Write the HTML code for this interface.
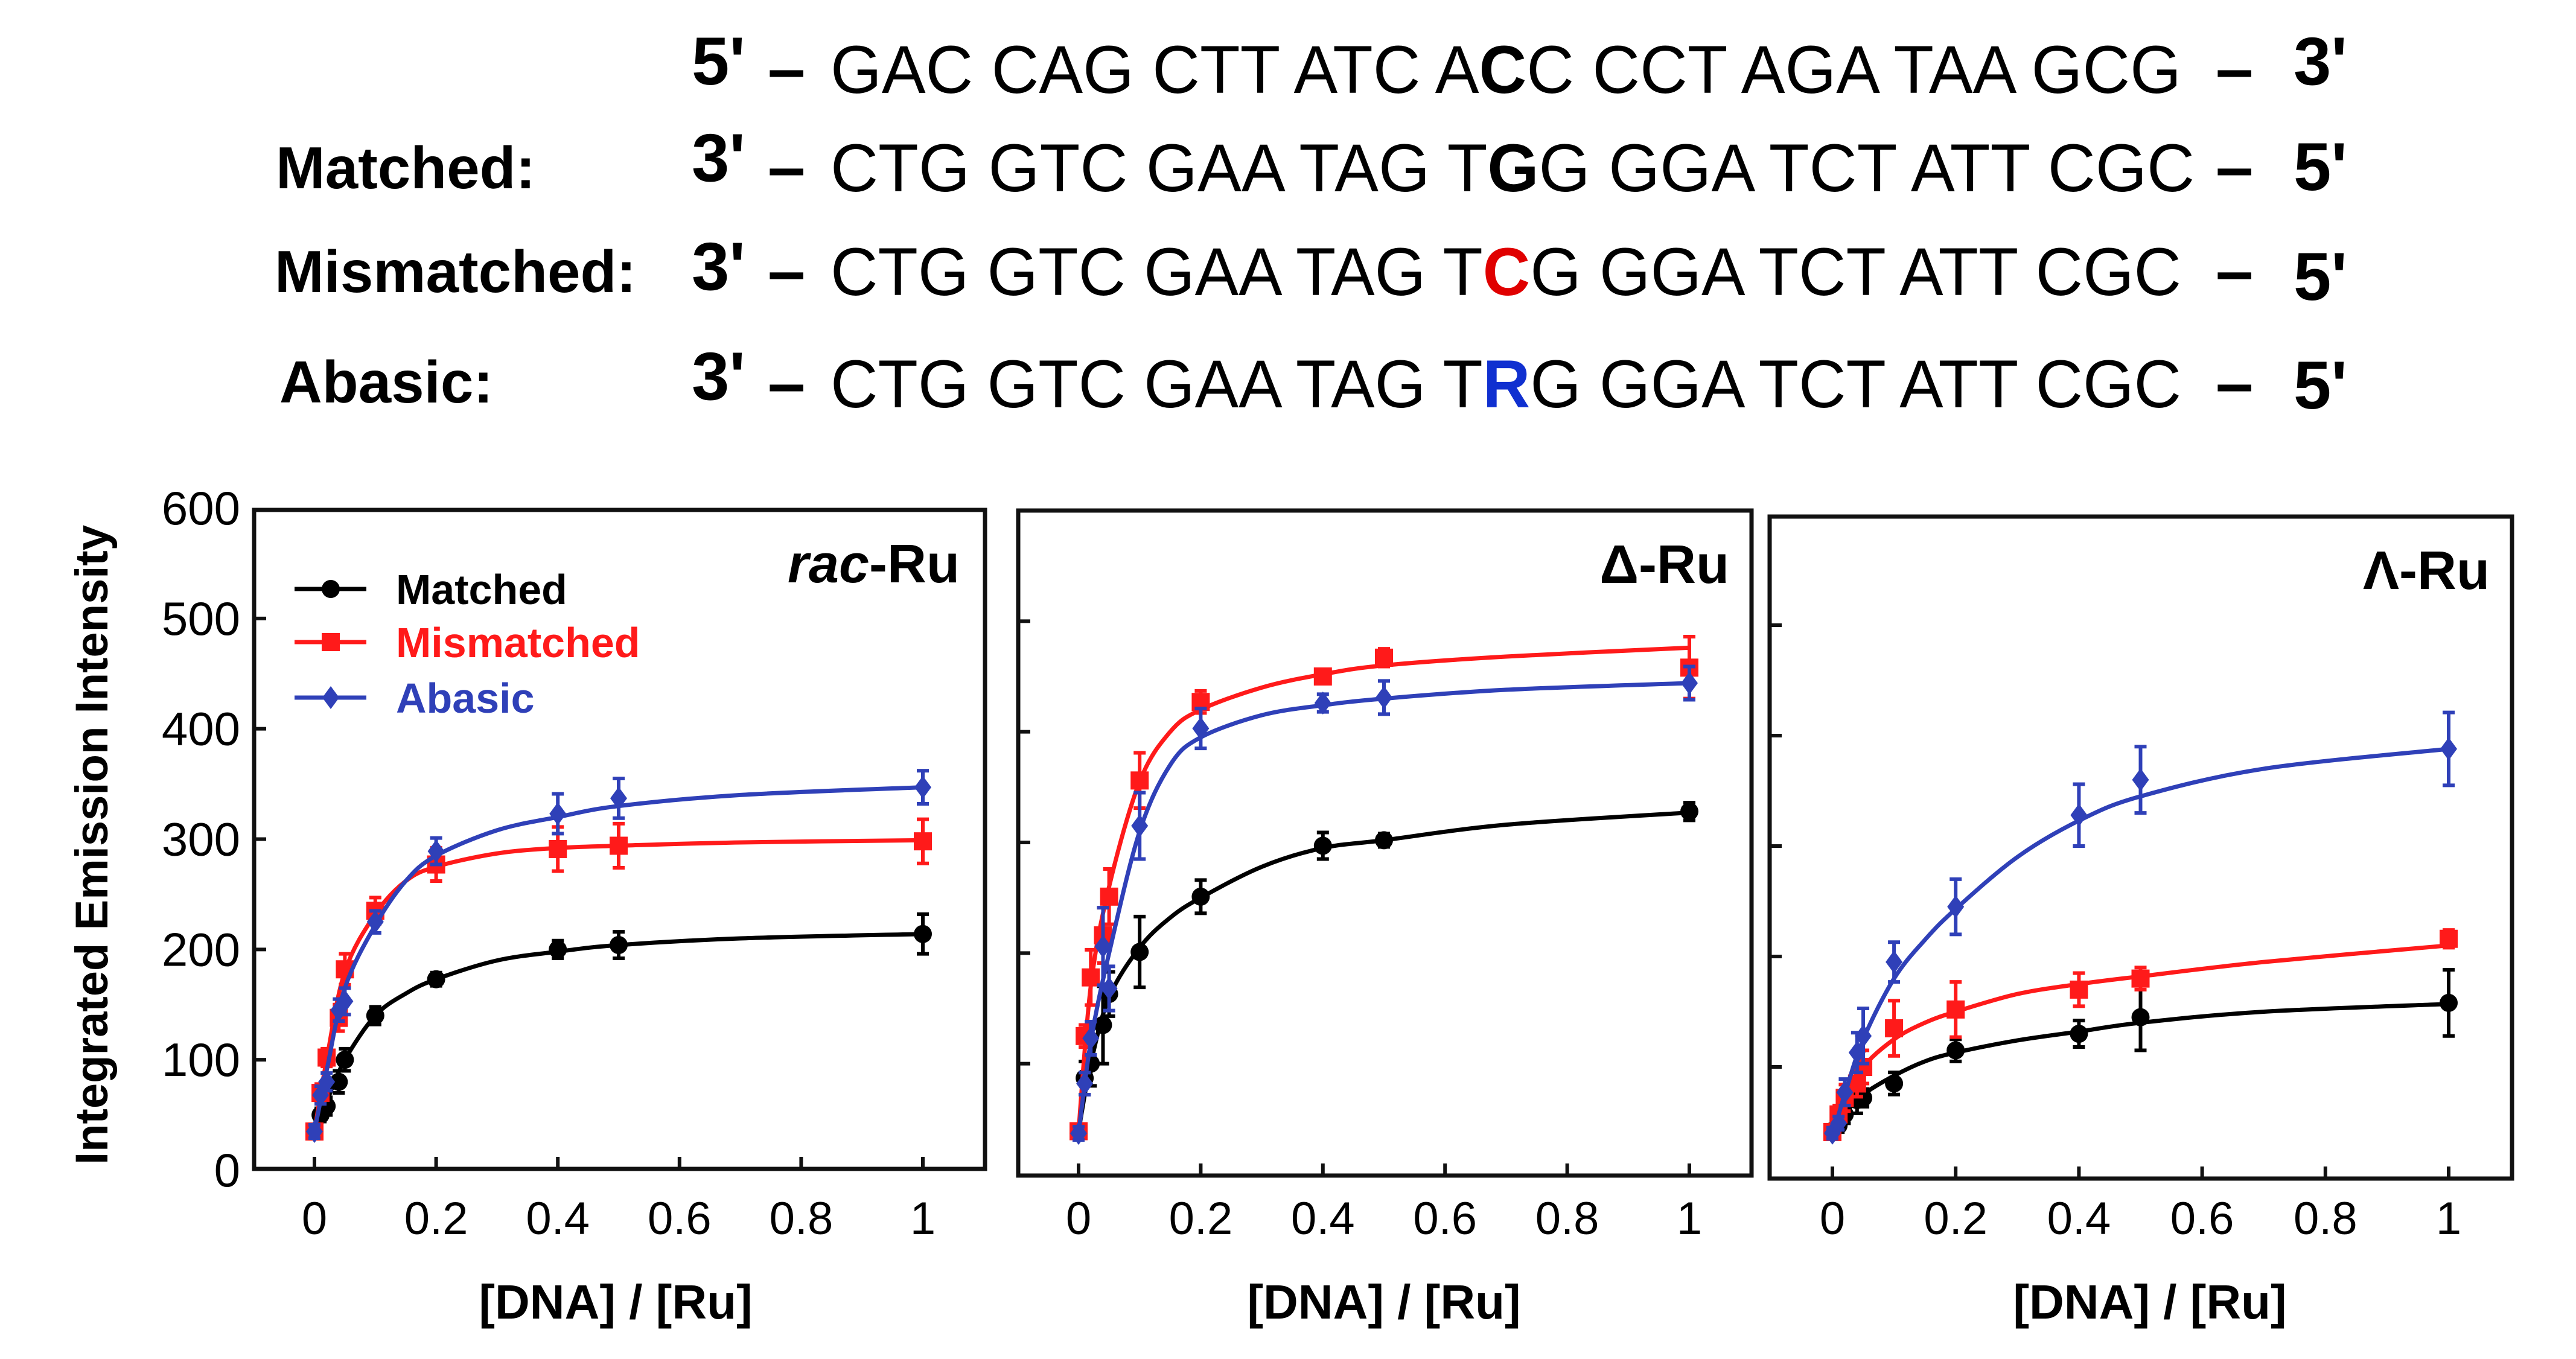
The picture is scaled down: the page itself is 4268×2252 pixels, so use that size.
<!DOCTYPE html>
<html><head><meta charset="utf-8"><style>
html,body{margin:0;padding:0;background:#fff;}
svg{display:block;font-family:"Liberation Sans",sans-serif;}
</style></head><body>
<svg id="fig" width="4268" height="2252" viewBox="0 0 4268 2252" xmlns="http://www.w3.org/2000/svg">
<g id="seq" font-size="112" fill="#000">
  <text x="1146" y="140" font-weight="bold">5'</text>
  <text x="1272" y="152" font-weight="bold">–</text>
  <text x="1376" y="154" textLength="2238" lengthAdjust="spacingAndGlyphs">GAC CAG CTT ATC A<tspan font-weight="bold">C</tspan>C CCT AGA TAA GCG</text>
  <text x="3671" y="152" font-weight="bold">–</text>
  <text x="3800" y="140" font-weight="bold">3'</text>

  <text x="457" y="312" font-weight="bold" font-size="98">Matched:</text>
  <text x="1146" y="300" font-weight="bold">3'</text>
  <text x="1272" y="315" font-weight="bold">–</text>
  <text x="1376" y="317" textLength="2260" lengthAdjust="spacingAndGlyphs">CTG GTC GAA TAG T<tspan font-weight="bold">G</tspan>G GGA TCT ATT CGC</text>
  <text x="3671" y="315" font-weight="bold">–</text>
  <text x="3800" y="315" font-weight="bold">5'</text>

  <text x="455" y="484" font-weight="bold" font-size="98">Mismatched:</text>
  <text x="1146" y="480" font-weight="bold">3'</text>
  <text x="1272" y="487" font-weight="bold">–</text>
  <text x="1376" y="489" textLength="2238" lengthAdjust="spacingAndGlyphs">CTG GTC GAA TAG T<tspan fill="#e00000" font-weight="bold">C</tspan>G GGA TCT ATT CGC</text>
  <text x="3671" y="487" font-weight="bold">–</text>
  <text x="3800" y="497" font-weight="bold">5'</text>

  <text x="463" y="667" font-weight="bold" font-size="98">Abasic:</text>
  <text x="1146" y="662" font-weight="bold">3'</text>
  <text x="1272" y="673" font-weight="bold">–</text>
  <text x="1376" y="675" textLength="2238" lengthAdjust="spacingAndGlyphs">CTG GTC GAA TAG T<tspan fill="#1030d0" font-weight="bold">R</tspan>G GGA TCT ATT CGC</text>
  <text x="3671" y="673" font-weight="bold">–</text>
  <text x="3800" y="677" font-weight="bold">5'</text>
</g>
<g id="charts"></g>
</svg>
<script>
const xVals = [0,0.01,0.02,0.04,0.05,0.1,0.2,0.4,0.5,1];
const fitX = [0,0.02,0.05,0.1,0.15,0.2,0.3,0.4,0.5,0.7,1];
const xTicks = [0,0.2,0.4,0.6,0.8,1];
const xTickLabels = ["0","0.2","0.4","0.6","0.8","1"];
const yTicks = [0,100,200,300,400,500,600];
const yTickLabels = ["0","100","200","300","400","500","600"];
const seriesNames = ["Matched","Mismatched","Abasic"];
const panelTitles = ["rac-Ru","Δ-Ru","Λ-Ru"];

const racMatched = [35,50,58,80,100,140,173,200,204,214];
const racMatchedErr = [5,6,8,10,10,8,6,8,12,18];
const racMismatched = [35,70,102,138,182,235,277,291,294,298];
const racMismatchedErr = [5,8,8,12,14,12,15,20,20,20];
const racAbasic = [35,68,80,145,153,225,289,323,337,347];
const racAbasicErr = [6,8,8,10,12,10,12,18,18,15];
const racFitM = [35,62,100,140,160,173,190,198,204,210,214];
const racFitMm = [35,100,180,232,262,275,287,292,294,297,299];
const racFitA = [35,90,165,222,262,285,308,320,330,340,347];

const deltaMatched = [39,87,100,135,163,201,251,297,302,328];
const deltaMatchedErr = [6,15,20,35,20,32,15,12,6,8];
const deltaMismatched = [39,125,178,216,251,356,427,450,467,458];
const deltaMismatchedErr = [6,10,25,25,25,25,10,5,8,28];
const deltaAbasic = [37,82,123,206,168,315,403,426,431,444];
const deltaAbasicErr = [6,10,15,35,20,30,18,8,15,15];
const deltaFitM = [39,100,160,205,232,250,278,295,302,316,327];
const deltaFitMm = [39,170,260,355,400,420,440,452,460,468,476];
const deltaFitA = [37,120,200,310,370,395,415,424,430,438,444];

const lambdaMatched = [42,47,57,70,72,85,115,130,145,158];
const lambdaMatchedErr = [5,6,8,12,8,10,10,12,30,30];
const lambdaMismatched = [41,57,72,85,100,135,152,170,180,216];
const lambdaMismatchedErr = [5,8,12,12,15,25,25,15,10,8];
const lambdaAbasic = [40,49,77,113,128,195,245,328,360,388];
const lambdaAbasicErr = [5,6,12,18,25,18,25,28,30,33];
const lambdaFitM = [38,57,75,92,105,113,124,132,140,150,157];
const lambdaFitMm = [38,70,100,125,140,150,166,175,182,195,210];
const lambdaFitA = [38,75,125,180,215,243,290,323,345,370,388];

const NS="http://www.w3.org/2000/svg";
const colors=["#000000","#ff1a1a","#2f40b8"];
const panels=[
 {fl:421,fr:1632,ft:845,fb:1937,x0:521,x1:1529,y0:1939,y6:842,tx:1590,cx:1020,yl:true,
  d:[racMatched,racMismatched,racAbasic],e:[racMatchedErr,racMismatchedErr,racAbasicErr],f:[racFitM,racFitMm,racFitA],name:'rac-panel'},
 {fl:1687,fr:2902,ft:846,fb:1948,x0:1787,x1:2799,y0:1946,y6:846,tx:2865,cx:2293,yl:false,
  d:[deltaMatched,deltaMismatched,deltaAbasic],e:[deltaMatchedErr,deltaMismatchedErr,deltaAbasicErr],f:[deltaFitM,deltaFitMm,deltaFitA],name:'delta-panel'},
 {fl:2932,fr:4162,ft:856,fb:1953,x0:3036,x1:4057,y0:1951,y6:853,tx:4125,cx:3562,yl:false,
  d:[lambdaMatched,lambdaMismatched,lambdaAbasic],e:[lambdaMatchedErr,lambdaMismatchedErr,lambdaAbasicErr],f:[lambdaFitM,lambdaFitMm,lambdaFitA],name:'lambda-panel'}
];
function mk(tag,attrs,parent){const el=document.createElementNS(NS,tag);for(const k in attrs)el.setAttribute(k,attrs[k]);parent.appendChild(el);return el;}
function marker(g,type,x,y,c){
 let m;
 if(type===0)m=mk('circle',{cx:x,cy:y,r:15,fill:c},g);
 else if(type===1)m=mk('rect',{x:x-15,y:y-15,width:30,height:30,fill:c},g);
 else m=mk('polygon',{points:`${x},${y-19} ${x+14},${y} ${x},${y+19} ${x-14},${y}`,fill:c},g);
 return m;
}
function crPath(pts){
 let d=`M${pts[0][0]},${pts[0][1]}`;
 for(let i=0;i<pts.length-1;i++){
  const p0=pts[Math.max(0,i-1)],p1=pts[i],p2=pts[i+1],p3=pts[Math.min(pts.length-1,i+2)];
  const c1=[p1[0]+(p2[0]-p0[0])/6,p1[1]+(p2[1]-p0[1])/6];
  const c2=[p2[0]-(p3[0]-p1[0])/6,p2[1]-(p3[1]-p1[1])/6];
  d+=` C${c1[0]},${c1[1]} ${c2[0]},${c2[1]} ${p2[0]},${p2[1]}`;
 }
 return d;
}
const root=document.getElementById('charts');
panels.forEach((p,pi)=>{
 const g=mk('g',{},root);
 
 
 const X=v=>p.x0+(p.x1-p.x0)*v;
 const Y=v=>p.y0+(p.y6-p.y0)*v/600;
 const fr=mk('rect',{x:p.fl,y:p.ft,width:p.fr-p.fl,height:p.fb-p.ft,fill:'none',stroke:'#111','stroke-width':7},g);
 
 
 xTicks.forEach((t,i)=>{
  const tk=mk('line',{x1:X(t),x2:X(t),y1:p.fb,y2:p.fb-20,stroke:'#111','stroke-width':6},g);
  
  
  const tl=mk('text',{x:X(t),y:2045,'font-size':76,'text-anchor':'middle',fill:'#000'},g);
  tl.textContent=xTickLabels[i];
  
  
 });
 yTicks.forEach((t,i)=>{
  if(t===0||t===600)return;
  const tk=mk('line',{x1:p.fl,x2:p.fl+20,y1:Y(t),y2:Y(t),stroke:'#111','stroke-width':6},g);
  
  
 });
 if(p.yl){
  yTicks.forEach((t,i)=>{
   const tl=mk('text',{x:398,y:Y(t)+27,'font-size':78,'text-anchor':'end',fill:'#000'},g);
   tl.textContent=yTickLabels[i];
   
   
  });
 }
 const xt=mk('text',{x:p.cx,y:2185,'font-size':80,'font-weight':'bold','text-anchor':'middle',fill:'#000'},g);
 xt.textContent='[DNA] / [Ru]';
 
 
 const tt=mk('text',{x:p.tx,y:p.ft+120,'font-size':90,'font-weight':'bold','text-anchor':'end',fill:'#000'},g);
 if(pi===0){const it=mk('tspan',{'font-style':'italic'},tt);it.textContent='rac';const r=mk('tspan',{},tt);r.textContent='-Ru';}
 else tt.textContent=panelTitles[pi];
 
 
 [0,1,2].forEach(si=>{
  const c=colors[si];
  const sg=mk('g',{},g);
  
  
  const pts=fitX.map((x,i)=>[X(x),Y(p.f[si][i])]);
  const ln=mk('path',{d:crPath(pts),fill:'none',stroke:c,'stroke-width':7},sg);
  
  
  xVals.forEach((x,i)=>{
   const v=p.d[si][i],e=p.e[si][i];
   const eb=mk('path',{d:`M${X(x)},${Y(v-e)}V${Y(v+e)}M${X(x)-10},${Y(v-e)}h20M${X(x)-10},${Y(v+e)}h20`,stroke:c,'stroke-width':6,fill:'none'},sg);
   
   
   const m=marker(sg,si,X(x),Y(v),c);
   
   
  });
 });
});
const yt=mk('text',{x:0,y:0,'font-size':76,'font-weight':'bold','text-anchor':'middle',fill:'#000',transform:'translate(178,1400) rotate(-90)'},root);
yt.textContent='Integrated Emission Intensity';


const lg=mk('g',{},root);


[976,1064,1156].forEach((y,i)=>{
 const eg=mk('g',{},lg);
 
 
 mk('line',{x1:488,x2:607,y1:y,y2:y,stroke:colors[i],'stroke-width':7},eg);
 marker(eg,i,548,y,colors[i]);
 const t=mk('text',{x:656,y:y+25,'font-size':70,'font-weight':'bold',fill:colors[i]},eg);
 t.textContent=seriesNames[i];
});
</script>
</body></html>
